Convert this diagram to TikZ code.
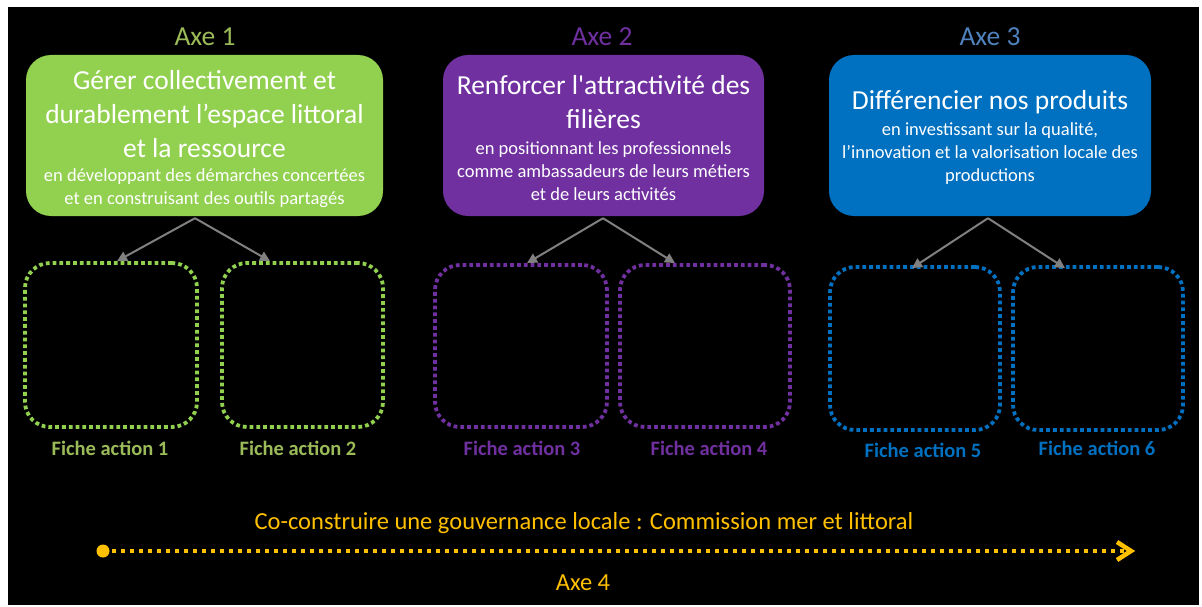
\documentclass[tikz,border=0pt]{standalone}
\usepackage{fontspec}
\setmainfont{Carlito}
\newfontfamily\straightfont{Carlito}[Ligatures=TeXOff]
\usetikzlibrary{arrows.meta,calc}
\definecolor{gfill}{HTML}{92D050}
\definecolor{gtext}{HTML}{9BBB59}
\definecolor{pfill}{HTML}{7030A0}
\definecolor{bfill}{HTML}{0070C0}
\definecolor{btext}{HTML}{4F81BD}
\definecolor{otext}{HTML}{FFC000}
\definecolor{arrgray}{HTML}{808080}
\tikzset{
  mainbox/.style={rectangle, rounded corners=25pt, inner sep=0pt},
  dotbox/.style={rectangle, rounded corners=25pt, draw, line width=3.8pt, dash pattern=on 3.8pt off 3pt, inner sep=0pt},
  axelabel/.style={font=\fontsize{27.5}{32}\selectfont, inner sep=0pt},
  titletext/.style={text=white, align=center, font=\fontsize{27.5}{34}\selectfont, inner sep=0pt},
  subtext/.style={text=white, align=center, font=\fontsize{18.5}{23}\selectfont, inner sep=0pt},
  fichelabel/.style={font=\bfseries\fontsize{20.5}{24}\selectfont, inner sep=0pt},
  linkarrow/.style={draw=arrgray, line width=2pt, -{Triangle[length=10pt,width=10pt]}},
  govline/.style={draw=otext, line width=4pt, dash pattern=on 4pt off 5pt},
  govtext/.style={font=\fontsize{24.5}{28}\selectfont, text=otext, inner sep=0pt},
}
\begin{document}
\begin{tikzpicture}[x=1pt,y=-1pt]
\useasboundingbox (0,0) rectangle (1202,607);
\fill[white] (0,0) rectangle (1202,607);
\fill[black] (8,7) rectangle (1199,605);

% Axe labels
\node[axelabel, text=gtext] (a1) at (205,37) {Axe 1};
\node[axelabel, text=pfill] (a2) at (602,37) {Axe 2};
\node[axelabel, text=btext] (a3) at (990,37) {Axe 3};

% main boxes
\node[mainbox, fill=gfill, minimum width=357pt, minimum height=161pt] (b1) at (204.5,135.5) {};
\node[mainbox, fill=pfill, minimum width=321pt, minimum height=161pt] (b2) at (603.5,135.5) {};
\node[mainbox, fill=bfill, minimum width=322pt, minimum height=161pt] (b3) at (990,135.5) {};

\node[titletext] (t1) at (204.5,114) {Gérer collectivement et\\durablement l’espace littoral\\et la ressource};
\node[subtext] (s1) at (204.5,188) {en développant des démarches concertées\\et en construisant des outils partagés};

\node[titletext] (t2) at (603.5,102.5) {Renforcer l{\straightfont '}attractivité des\\filières};
\node[subtext] (s2) at (603.5,171) {en positionnant les professionnels\\comme ambassadeurs de leurs métiers\\et de leurs activités};

\node[titletext] (t3) at (990,102) {Différencier nos produits};
\node[subtext] (s3) at (990,154) {en investissant sur la qualité,\\l’innovation et la valorisation locale des\\productions};

% dotted boxes
\node[dotbox, draw=gfill, minimum width=172pt, minimum height=164pt] (f1) at (111,345) {};
\node[dotbox, draw=gfill, minimum width=161pt, minimum height=164pt] (f2) at (302.5,345) {};
\node[dotbox, draw=pfill, minimum width=172pt, minimum height=162pt] (f3) at (521,346) {};
\node[dotbox, draw=pfill, minimum width=170pt, minimum height=162pt] (f4) at (705,346) {};
\node[dotbox, draw=bfill, minimum width=170pt, minimum height=163pt] (f5) at (915,348.5) {};
\node[dotbox, draw=bfill, minimum width=170pt, minimum height=163pt] (f6) at (1098,348.5) {};

% labels
\node[fichelabel, text=gtext] (l1) at (110,448) {Fiche action 1};
\node[fichelabel, text=gtext] (l2) at (298,448) {Fiche action 2};
\node[fichelabel, text=pfill] (l3) at (522,448) {Fiche action 3};
\node[fichelabel, text=pfill] (l4) at (709,448) {Fiche action 4};
\node[fichelabel, text=bfill] (l5) at (923,450) {Fiche action 5};
\node[fichelabel, text=bfill] (l6) at (1097,448) {Fiche action 6};

% arrows
\draw[linkarrow] ([xshift=-9.5pt,yshift=-2pt]b1.south) -- ([xshift=6pt]f1.north);
\draw[linkarrow] ([xshift=-9.5pt,yshift=-2pt]b1.south) -- ([xshift=-32.5pt]f2.north);
\draw[linkarrow] ([xshift=-0.5pt,yshift=-2pt]b2.south) -- ([xshift=6pt]f3.north);
\draw[linkarrow] ([xshift=-0.5pt,yshift=-2pt]b2.south) -- ([xshift=-30pt]f4.north);
\draw[linkarrow] ([xshift=-2pt,yshift=-2pt]b3.south) -- ([xshift=-3pt,yshift=-3pt]f5.north);
\draw[linkarrow] ([xshift=-2pt,yshift=-2pt]b3.south) -- ([xshift=-33pt,yshift=-3pt]f6.north);

% bottom governance line
\node[govtext] (gov) at (584,523) {Co-construire une gouvernance locale : Commission mer et littoral};
\node[govtext] (a4) at (583,583) {Axe 4};
\coordinate (gs) at (103,551);
\coordinate (ge) at (1131,551);
\draw[govline] (gs) -- ($(ge)+(-4,0)$);
\fill[otext] (gs) circle (6.5pt);
\draw[draw=otext, line width=4.5pt, miter limit=10] ($(ge)+(-14,-9)$) -- (ge) -- ($(ge)+(-14,9)$);
\end{tikzpicture}
\end{document}
